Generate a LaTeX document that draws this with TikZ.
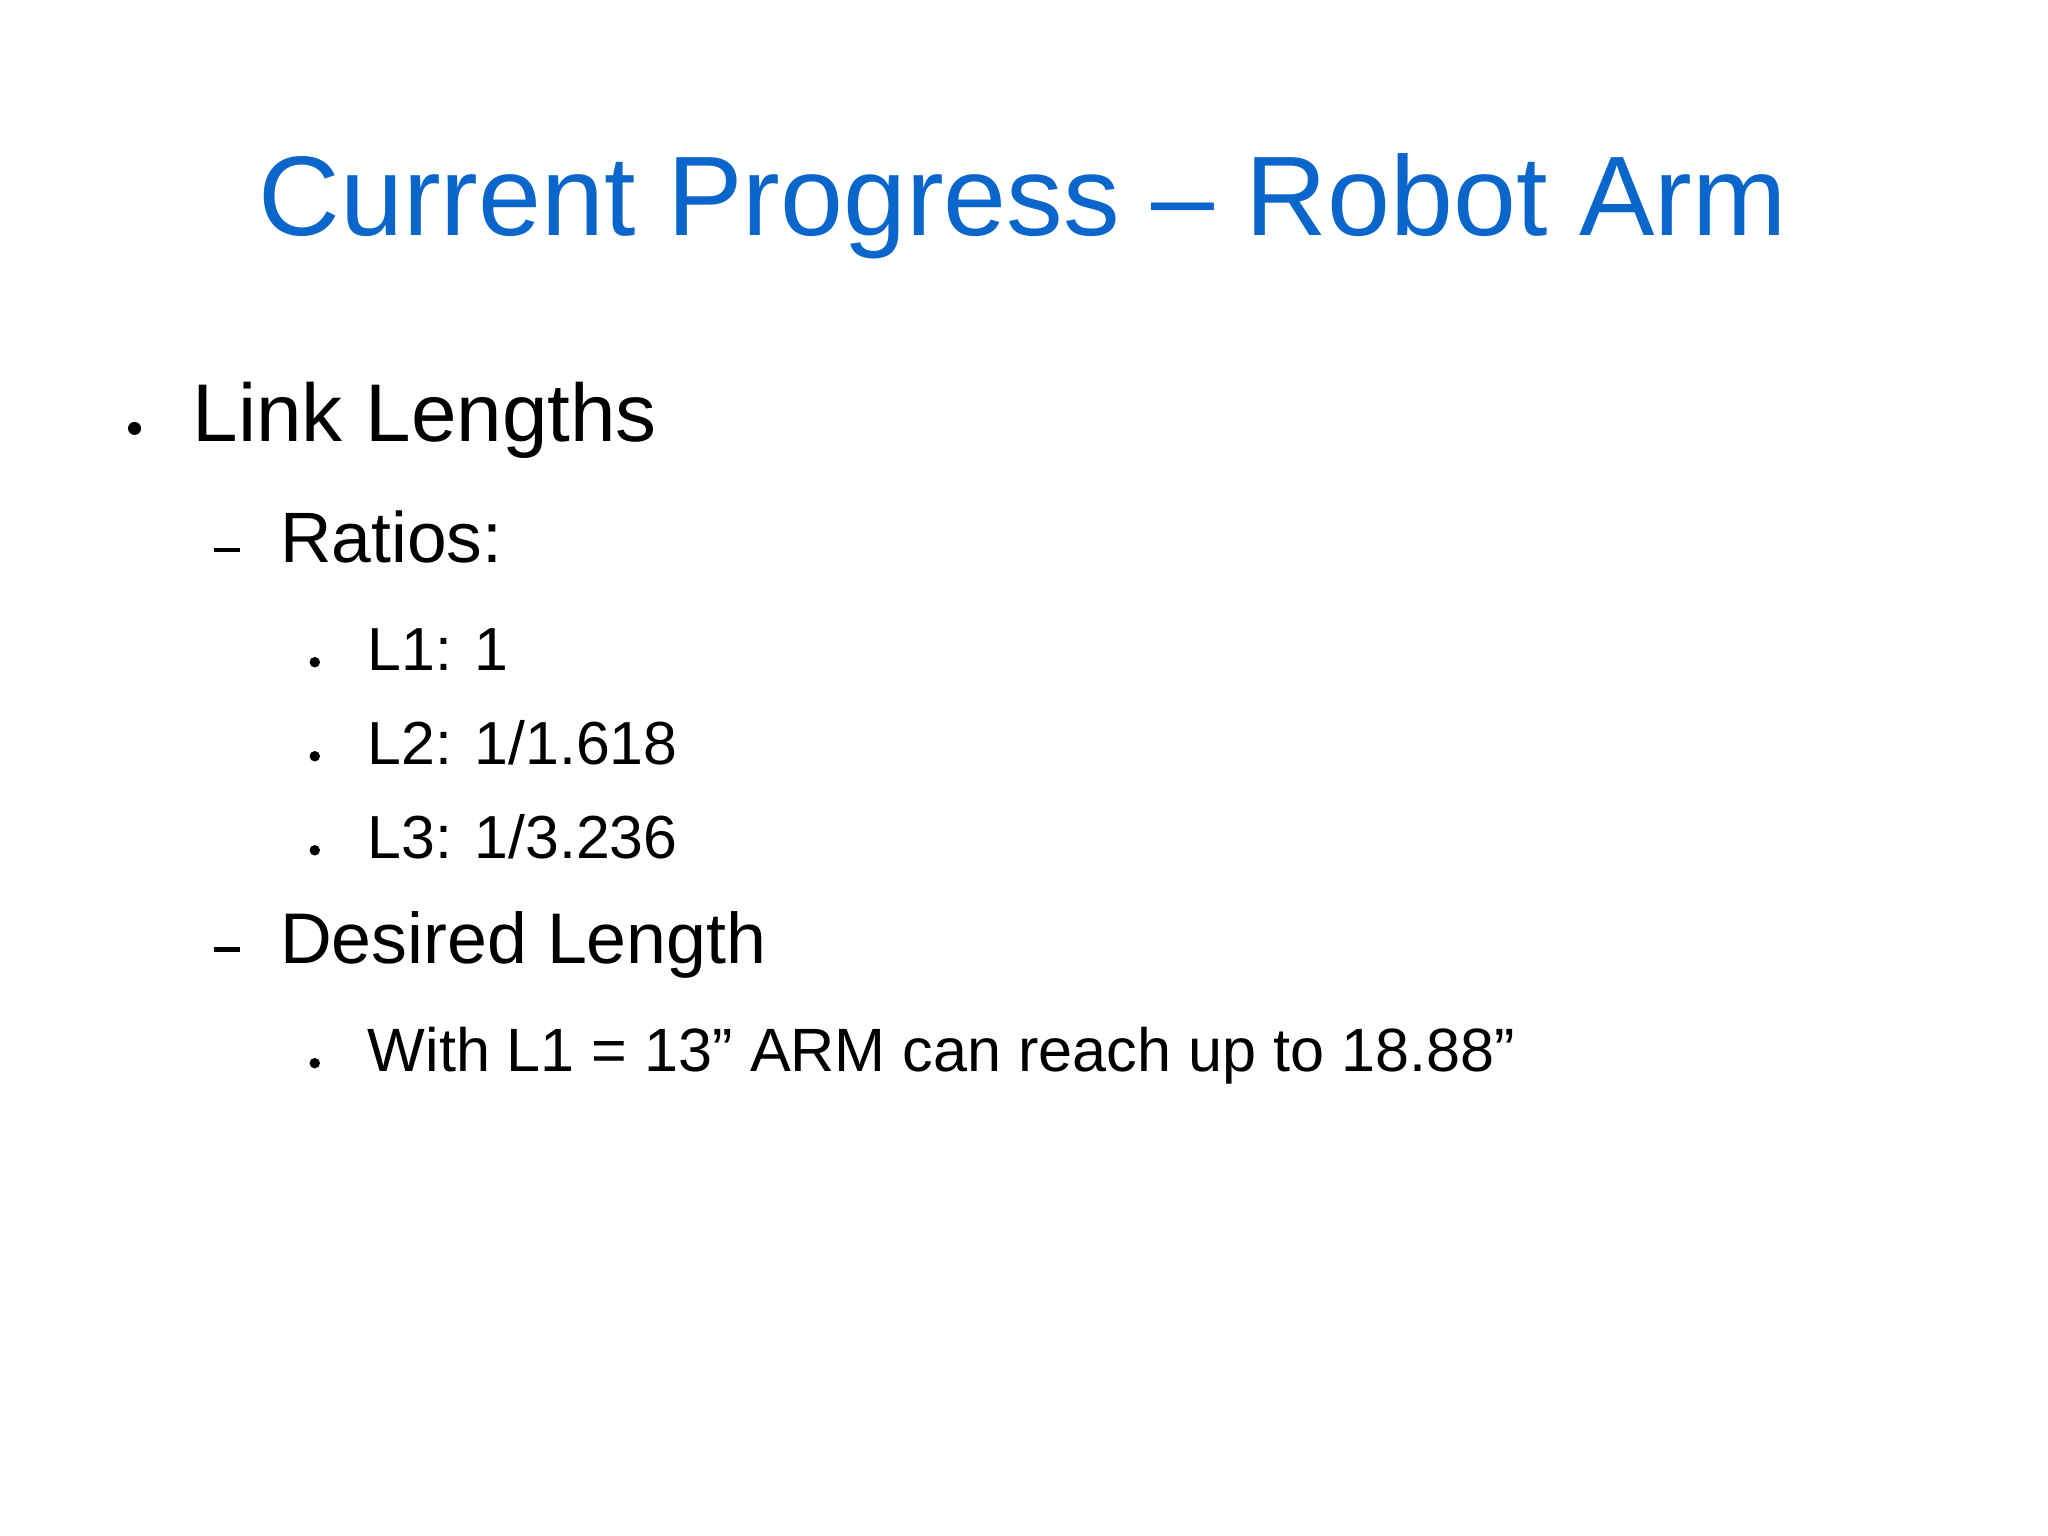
\documentclass[tikz,border=0pt]{standalone}
\usepackage{fontspec}
\setmainfont{Liberation Sans}
\definecolor{titleblue}{HTML}{0B66CC}
\begin{document}
\begin{tikzpicture}[x=0.01306cm,y=-0.01306cm,
  txt/.style={anchor=base west,inner sep=0pt},
  dot/.style={circle,fill=black,inner sep=0pt}]
\path[use as bounding box] (0,0) rectangle (1568,1176);
\node[anchor=base,inner sep=0pt,text=titleblue,font=\fontsize{32.2}{38}\selectfont] (title) at (783,180) {Current Progress -- Robot Arm};
\node[dot,minimum size=10*0.01306cm] (b1) at (103,328) {};
\node[txt,font=\fontsize{23.3}{28}\selectfont] (t1) at (147,338) {Link Lengths};
\draw[line width=1.2pt] (164,421) -- (184,421);
\node[txt,font=\fontsize{20.3}{24}\selectfont] (t2) at (214,431) {Ratios:};
\node[dot,minimum size=8*0.01306cm] (b3) at (241,507) {};
\node[txt,font=\fontsize{17.3}{21}\selectfont] (t3) at (281,513) {L1: 1};
\node[dot,minimum size=8*0.01306cm] (b4) at (241,579) {};
\node[txt,font=\fontsize{17.3}{21}\selectfont] (t4) at (281,585) {L2: 1/1.618};
\node[dot,minimum size=8*0.01306cm] (b5) at (241,651) {};
\node[txt,font=\fontsize{17.3}{21}\selectfont] (t5) at (281,657) {L3: 1/3.236};
\draw[line width=1.2pt] (164,727) -- (184,727);
\node[txt,font=\fontsize{20.4}{24}\selectfont] (t6) at (214,738) {Desired Length};
\node[dot,minimum size=8*0.01306cm] (b7) at (241,814) {};
\node[txt,font=\fontsize{17.4}{21}\selectfont] (t7) at (281,820) {With L1 = 13” ARM can reach up to 18.88”};
\end{tikzpicture}
\end{document}
